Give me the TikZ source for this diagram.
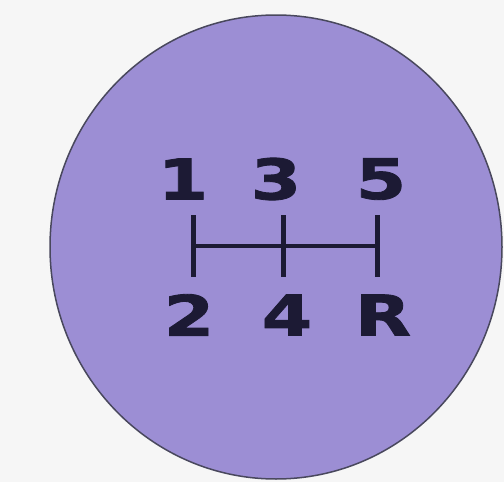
\documentclass[tikz,border=0pt]{standalone}
\usepackage{fontspec}
\newfontfamily\knobfont{DejaVu Sans Bold}[FakeStretch=1.3,FakeBold=1.5]
\definecolor{knob}{RGB}{156,142,212}
\definecolor{ink}{RGB}{28,26,52}
\definecolor{bg}{RGB}{246,246,246}
\begin{document}
\begin{tikzpicture}[x=1pt,y=-1pt,
  gear/.style={text=ink,font=\knobfont\fontsize{56}{56}\selectfont,inner sep=0pt,anchor=center},
  gate/.style={draw=ink,line width=5pt},
  rail/.style={draw=ink,line width=4pt}]
\fill[bg] (0,0) rectangle (504,482);
\useasboundingbox (0,0) rectangle (504,482);
\fill[knob,draw=ink!80,line width=1.5pt] (276,247) ellipse [x radius=226,y radius=232];
\node[gear] (g1) at (183,179) {1};
\node[gear] (g3) at (276,179) {3};
\node[gear] (g5) at (381,179) {5};
\node[gear] (g2) at (189,315) {2};
\node[gear] (g4) at (287,315) {4};
\node[gear] (gR) at (383,315) {R};
\coordinate (a1) at (193,215); \coordinate (a2) at (193,277);
\coordinate (b1) at (283,215); \coordinate (b2) at (283,277);
\coordinate (c1) at (377,215); \coordinate (c2) at (377,277);
\coordinate (h1) at (193,246); \coordinate (h2) at (377,246);
\draw[gate] (a1) -- (a2);
\draw[gate] (b1) -- (b2);
\draw[gate] (c1) -- (c2);
\draw[rail] (h1) -- (h2);
\end{tikzpicture}
\end{document}
